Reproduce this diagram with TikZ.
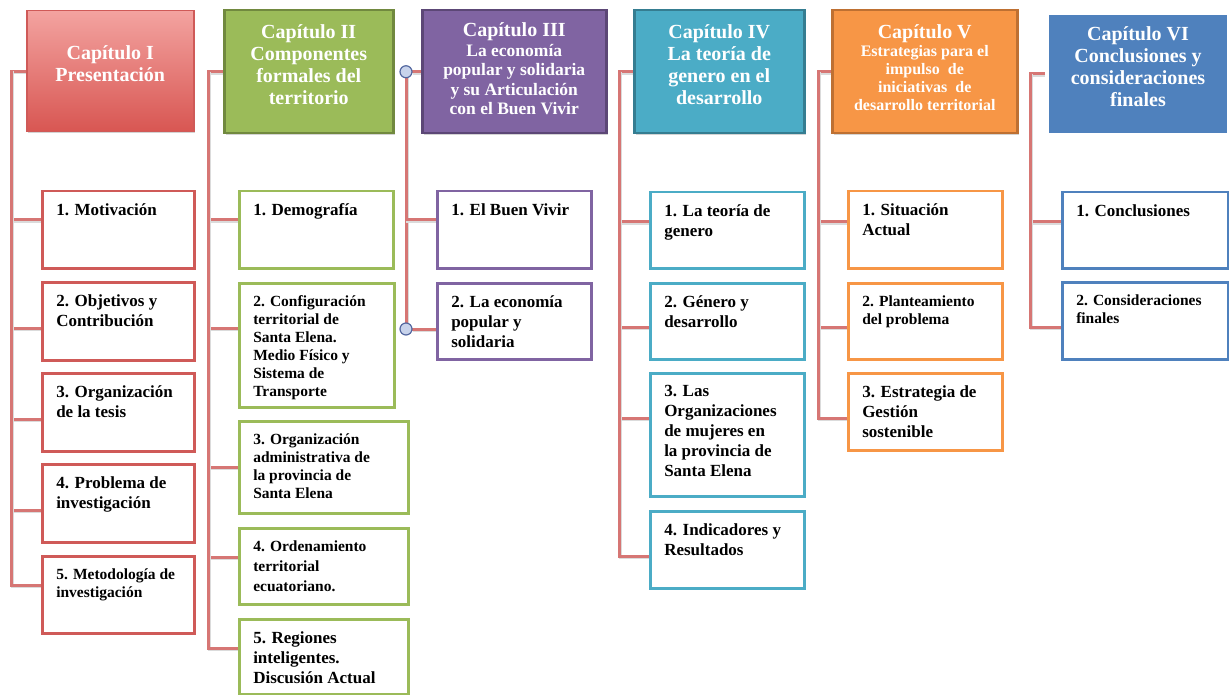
\documentclass[tikz,border=0pt]{standalone}
\usepackage{fontspec}
\setmainfont{Liberation Serif}
\usepackage{tikz}
\usetikzlibrary{shadows}
\pgfdeclarelayer{back}
\pgfsetlayers{back,main}

\definecolor{linea}{RGB}{214,118,116}
\definecolor{rojo}{RGB}{207,90,88}
\definecolor{rojoA}{RGB}{243,163,160}
\definecolor{rojoB}{RGB}{216,86,82}
\definecolor{verde}{RGB}{155,187,89}
\definecolor{verdeO}{RGB}{113,137,63}
\definecolor{morado}{RGB}{128,100,162}
\definecolor{moradoO}{RGB}{92,71,118}
\definecolor{turq}{RGB}{75,172,198}
\definecolor{turqO}{RGB}{53,125,145}
\definecolor{naranja}{RGB}{247,150,70}
\definecolor{naranjaO}{RGB}{190,112,50}
\definecolor{azul}{RGB}{79,129,189}
\definecolor{knobfill}{RGB}{200,211,235}
\definecolor{knobline}{RGB}{84,104,160}

\newcommand{\Kid}[3]{\parbox[t][#2pt][t]{#1pt}{\raggedright #3}}
\newcommand{\kidfont}{\fontsize{17}{20}\selectfont\bfseries}
\newcommand{\smallkid}{\fontsize{15.5}{18}\selectfont}
\newcommand{\capfont}{\fontsize{20}{22}\selectfont\bfseries}

\tikzset{
  every shadow/.style={opacity=0.35,shadow xshift=1.5pt,shadow yshift=-1.5pt},
  capbox/.style={anchor=north west,align=center,text=white,font=\capfont,line width=2.5pt,drop shadow},
  kid/.style={anchor=north west,draw=#1,line width=2.5pt,fill=white,inner xsep=14pt,inner ysep=12pt,font=\kidfont},
  spine/.style={draw=linea,line width=3pt,line cap=rect,
    preaction={draw=black!14,line width=3pt,line cap=rect,transform canvas={shift={(1.5pt,-1.5pt)}}}},
  knob/.style={circle,draw=knobline,fill=knobfill,line width=1.2pt,minimum size=12pt,inner sep=0pt},
}

\begin{document}
\begin{tikzpicture}[x=1pt,y=1pt]
\useasboundingbox (0,0) rectangle (1229,-695);
% chapter heads
\node (h1) [capbox,draw=rojo,top color=rojoA,bottom color=rojoB,line width=1.5pt,minimum width=167pt,minimum height=121pt] at (26,-10) {Capítulo I\\Presentación\\[-6pt]\mbox{}};
\node (h2) [capbox,draw=verdeO,fill=verde,minimum width=169pt,minimum height=123pt] at (223,-9) {Capítulo II\\Componentes\\formales del\\territorio\\[-8pt]\mbox{}};
\node (h3) [capbox,draw=moradoO,fill=morado,minimum width=184pt,minimum height=123pt,font=\fontsize{17.5}{19.5}\selectfont\bfseries] at (421,-9) {{\capfont Capítulo III}\\La economía\\popular y solidaria\\y su Articulación\\con el Buen Vivir\\[-13.5pt]\mbox{}};
\node (h4) [capbox,draw=turqO,fill=turq,minimum width=170pt,minimum height=123pt] at (633,-9) {Capítulo IV\\La teoría de\\genero en el\\desarrollo\\[-8pt]\mbox{}};
\node (h5) [capbox,draw=naranjaO,fill=naranja,minimum width=185pt,minimum height=123pt,font=\fontsize{16}{18}\selectfont\bfseries] at (831,-9) {{\capfont Capítulo V}\\Estrategias para el\\impulso \ de\\iniciativas \ de\\desarrollo territorial\\[-10pt]\mbox{}};
\node (h6) [capbox,draw=white,fill=azul,line width=4pt,minimum width=182pt,minimum height=122pt] at (1045,-11) {Capítulo VI\\Conclusiones y\\consideraciones\\finales\\[-8pt]\mbox{}};
%
\node (c11) [kid=rojo] at (41,-190) {\Kid{124}{53}{1. Motivación}};
\node (c12) [kid=rojo] at (41,-281) {\Kid{124}{54}{2. Objetivos y\\Contribución}};
\node (c13) [kid=rojo] at (41,-372) {\Kid{124}{54}{3. Organización\\de la tesis}};
\node (c14) [kid=rojo] at (41,-463) {\Kid{124}{54}{4. Problema de\\investigación}};
\node (c15) [kid=rojo] at (41,-555) {\Kid{124}{53}{\smallkid 5. Metodología de\\investigación}};
%
\node (c21) [kid=verde] at (238,-190) {\Kid{126}{53}{1. Demografía}};
\node (c22) [kid=verde] at (238,-282) {\Kid{127}{100}{\smallkid 2. Configuración\\territorial de\\Santa Elena.\\Medio Físico y\\Sistema de\\Transporte}};
\node (c23) [kid=verde] at (238,-420) {\Kid{141}{68}{\smallkid 3. Organización\\administrativa de\\la provincia de\\Santa Elena}};
\node (c24) [kid=verde] at (238,-527) {\Kid{141}{52}{\fontsize{15.5}{20}\selectfont 4. Ordenamiento\\territorial\\ecuatoriano.}};
\node (c25) [kid=verde] at (238,-618) {\Kid{141}{51}{5. Regiones\\inteligentes.\\Discusión Actual}};
%
\node (c31) [kid=morado] at (436,-190) {\Kid{126}{53}{1. El Buen Vivir}};
\node (c32) [kid=morado] at (436,-282) {\Kid{126}{52}{2. La economía\\popular y\\solidaria}};
%
\node (c41) [kid=turq] at (649,-191) {\Kid{126}{52}{1. La teoría de\\genero}};
\node (c42) [kid=turq] at (649,-282) {\Kid{126}{52}{2. Género y\\desarrollo}};
\node (c43) [kid=turq] at (649,-372) {\Kid{126}{99}{3. Las\\Organizaciones\\de mujeres en\\la provincia de\\Santa Elena}};
\node (c44) [kid=turq] at (649,-510) {\Kid{126}{53}{4. Indicadores y\\Resultados}};
%
\node (c51) [kid=naranja] at (847,-190) {\Kid{126}{53}{1. Situación\\Actual}};
\node (c52) [kid=naranja] at (847,-282) {\Kid{126}{52}{\smallkid 2. Planteamiento\\del problema}};
\node (c53) [kid=naranja] at (847,-372) {\Kid{126}{53}{3. Estrategia de\\Gestión\\sostenible}};
%
\node (c61) [kid=azul] at (1061,-191) {\Kid{138}{52}{1. Conclusiones}};
\node (c62) [kid=azul] at (1061,-281) {\Kid{138}{53}{\smallkid 2. Consideraciones\\finales}};
%
\node (k3a) [knob] at (406,0 |- h3.west) {};
\node (k3b) [knob] at (406,-329) {};
%
\coordinate (j1) at (11,0 |- h1.west);
\coordinate (j2) at (208,0 |- h2.west);
\coordinate (j4) at (619,0 |- h4.west);
\coordinate (j5) at (818,0 |- h5.west);
\coordinate (j6) at (1030,0 |- h6.west);
\begin{pgfonlayer}{back}
\draw[spine] (h1.west) -- (j1) |- ([yshift=-30pt]c11.north west);
\draw[spine] (j1) |- ([yshift=-47pt]c12.north west);
\draw[spine] (j1) |- ([yshift=-47pt]c13.north west);
\draw[spine] (j1) |- ([yshift=-47pt]c14.north west);
\draw[spine] (j1) |- ([yshift=-30pt]c15.north west);
%
\draw[spine] (h2.west) -- (j2) |- ([yshift=-30pt]c21.north west);
\draw[spine] (j2) |- ([yshift=-46pt]c22.north west);
\draw[spine] (j2) |- ([yshift=-47pt]c23.north west);
\draw[spine] (j2) |- ([yshift=-30pt]c24.north west);
\draw[spine] (j2) |- ([yshift=-30pt]c25.north west);
%
\draw[spine] (k3a) -- (h3.west);
\draw[spine] (k3a) -- (k3b);
\draw[spine] (k3a) |- ([yshift=-30pt]c31.north west);
\draw[spine] (k3b) -- (k3b -| c32.west);
%
\draw[spine] (h4.west) -- (j4) |- ([yshift=-31pt]c41.north west);
\draw[spine] (j4) |- ([yshift=-45pt]c42.north west);
\draw[spine] (j4) |- ([yshift=-46pt]c43.north west);
\draw[spine] (j4) |- ([yshift=-46pt]c44.north west);
%
\draw[spine] (h5.west) -- (j5) |- ([yshift=-32pt]c51.north west);
\draw[spine] (j5) |- ([yshift=-45pt]c52.north west);
\draw[spine] (j5) |- ([yshift=-46pt]c53.north west);
%
\draw[spine] (h6.west) -- (j6) |- ([yshift=-31pt]c61.north west);
\draw[spine] (j6) |- ([yshift=-46pt]c62.north west);
\end{pgfonlayer}
\end{tikzpicture}
\end{document}
